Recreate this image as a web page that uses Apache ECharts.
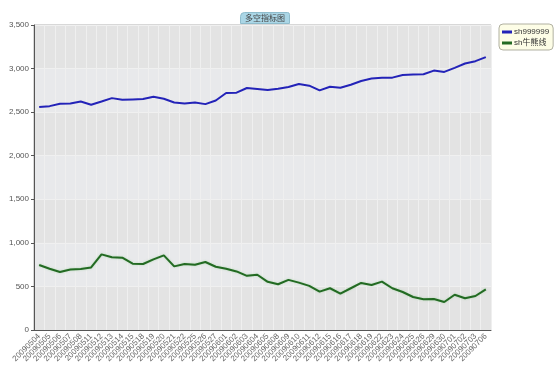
<!DOCTYPE html>
<html>
<head>
<meta charset="utf-8">
<script src="https://cdn.jsdelivr.net/npm/echarts@6/dist/echarts.min.js"></script>
<style>html,body{margin:0;padding:0;background:#fff}#c{width:560px;height:384px}</style>
</head>
<body>
<div id="c"></div>
<script>
var titleText = '多空指标图';
var categories = ['20090504','20090505','20090506','20090507','20090508','20090511','20090512','20090513','20090514','20090515','20090518','20090519','20090520','20090521','20090522','20090525','20090526','20090527','20090601','20090602','20090603','20090604','20090605','20090608','20090609','20090610','20090611','20090612','20090615','20090616','20090617','20090618','20090619','20090622','20090623','20090624','20090625','20090626','20090629','20090630','20090701','20090702','20090703','20090706'];
var seriesNames = ['sh999999', 'sh牛熊线'];
var shIndex = [2558,2569,2596,2600,2622,2584,2622,2661,2642,2646,2650,2677,2654,2611,2600,2611,2592,2634,2719,2723,2777,2766,2754,2769,2789,2823,2804,2750,2792,2780,2815,2858,2885,2896,2896,2927,2931,2935,2977,2962,3008,3058,3085,3131];
var bullBear = [746,703,665,695,700,718,868,834,830,761,757,811,857,730,757,749,780,726,703,672,622,634,553,525,575,544,506,440,479,417,479,540,517,555,479,436,379,352,356,321,405,364,390,467];
var yMin = 0, yMax = 3500, yStep = 500;

var chart = echarts.init(document.getElementById('c'));
var fam = '"Liberation Sans", Arial, "Noto Sans CJK SC", sans-serif';
chart.setOption({
  animation: false,
  textStyle: {fontFamily: fam},
  title: {
    text: titleText,
    left: 240, top: 12,
    padding: [2, 5, 2, 5],
    backgroundColor: '#aad6e6',
    borderColor: '#8fbccc',
    borderWidth: 1,
    borderRadius: [4, 2, 0, 0],
    textStyle: {fontSize: 8, fontWeight: 'normal', color: '#444', fontFamily: '"Noto Sans CJK SC", sans-serif'}
  },
  legend: {
    data: seriesNames,
    orient: 'vertical',
    left: 499, top: 24,
    padding: [4, 4, 3, 3],
    itemGap: 3,
    itemWidth: 10, itemHeight: 3,
    icon: 'rect',
    backgroundColor: '#fdfde6',
    borderColor: '#b0b0a0',
    borderWidth: 1,
    borderRadius: 4,
    textStyle: {fontSize: 8, color: '#333', padding: [0,0,0,-3], fontFamily: fam}
  },
  grid: {
    left: 34, right: 69, top: 25, bottom: 54,
    show: true, borderColor: '#b0b0b0', borderWidth: 1, backgroundColor: '#e4e4e4'
  },
  xAxis: {
    type: 'category',
    data: categories,
    boundaryGap: true,
    axisLine: {lineStyle: {color: '#555', width: 1}},
    axisTick: {alignWithLabel: true, length: 3, lineStyle: {color: '#555'}},
    axisLabel: {interval: 0, rotate: 45, fontSize: 8, color: '#666', margin: 5},
    splitLine: {show: true, interval: 0, lineStyle: {color: '#efefef', width: 1}}
  },
  yAxis: {
    type: 'value',
    min: yMin, max: yMax, interval: yStep,
    axisLine: {show: true, lineStyle: {color: '#555', width: 1}},
    axisTick: {show: true, length: 3, lineStyle: {color: '#555'}},
    axisLabel: {fontSize: 8, color: '#555', margin: 5,
      formatter: function (v) { return v.toLocaleString('en-US'); }},
    splitLine: {show: true, lineStyle: {color: '#f0f0f0', width: 1}},
    splitArea: {show: true, areaStyle: {color: ['#e3e3e3', '#e8e9eb']}}
  },
  series: [
    {name: seriesNames[0], type: 'line', data: shIndex, symbol: 'none',
     lineStyle: {color: '#2323b8', width: 2}, itemStyle: {color: '#2323b8'}},
    {name: seriesNames[1], type: 'line', data: bullBear, symbol: 'none',
     lineStyle: {color: '#236a23', width: 2, shadowColor: 'rgba(120,200,120,0.5)', shadowBlur: 2}, itemStyle: {color: '#236a23'}}
  ]
});
</script>
</body>
</html>
